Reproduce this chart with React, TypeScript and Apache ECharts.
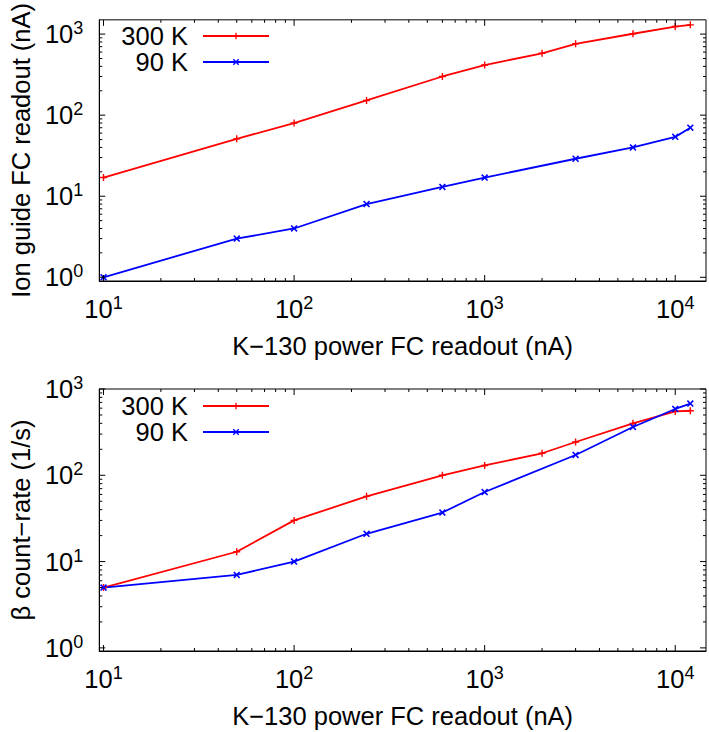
import React, { useEffect, useRef } from "react";
import * as echarts from "echarts";

// Ion guide Faraday-cup readout vs K-130 power FC readout (nA)
const xIon300 = [10, 50, 100, 240, 600, 1000, 2000, 3000, 6000, 10000, 12000];
const ion300 = [17, 51, 80, 152, 300, 415, 580, 760, 1010, 1240, 1300];
const xIon90 = [10, 50, 100, 240, 600, 1000, 3000, 6000, 10000, 12000];
const ion90 = [1.0, 3.0, 4.0, 8.0, 13, 17, 29, 40, 54, 70];

// Beta count-rate (1/s) vs K-130 power FC readout (nA)
const xBeta300 = [10, 50, 100, 240, 600, 1000, 2000, 3000, 6000, 10000, 12000];
const beta300 = [5.0, 13, 30, 57, 100, 130, 180, 243, 400, 550, 560];
const xBeta90 = [10, 50, 100, 240, 600, 1000, 3000, 6000, 10000, 12000];
const beta90 = [5.0, 7.0, 10, 21, 37, 64, 172, 363, 587, 677];

const seriesNames = ["300 K", "90 K"];
const xTitle = "K\u2212130 power FC readout (nA)";
const yTitles = ["Ion guide FC readout (nA)", "\u03b2 count\u2212rate (1/s)"];

// axis ranges
const X_MIN = 9.5;
const X_MAX = 14500;
const Y_RANGES = [
  [0.9, 1500],
  [0.92, 1000],
];

// decade (major) tick values and their 2..9 minor subdivisions
const xMajorTicks = [10, 100, 1000, 10000];
const yMajorTicks = [1, 10, 100, 1000];
const minorSteps = [2, 3, 4, 5, 6, 7, 8, 9];

const FONT = "'Liberation Sans', Arial, Helvetica, sans-serif";
const RED = "#ff0000";
const BLUE = "#0000ff";
const PLUS = "path://M4,0H6V4H10V6H6V10H4V6H0V4H4Z";
const CROSS =
  "path://M0,1.6L1.6,0L5,3.4L8.4,0L10,1.6L6.6,5L10,8.4L8.4,10L5,6.6L1.6,10L0,8.4L3.4,5Z";

const GRID_TOPS = [19, 389];
const GRID_H = 262;

function minorsIn(lo: number, hi: number) {
  const out: number[] = [];
  for (let d = 0.1; d <= hi; d *= 10) {
    for (const m of minorSteps) {
      const v = Math.round(m * d * 1000) / 1000;
      if (v > lo && v < hi) out.push(v);
    }
  }
  return out;
}

function powerLabel(v: number) {
  const e = Math.round(Math.log10(v));
  if (Math.abs(v - Math.pow(10, e)) > 1e-6 * v) return "";
  return `{b|10}{s|${e}}`;
}

const labelRich = {
  b: { fontSize: 25.5, lineHeight: 30, fontFamily: FONT, color: "#000" },
  s: {
    fontSize: 18,
    lineHeight: 15,
    verticalAlign: "top",
    fontFamily: FONT,
    color: "#000",
  },
};

function tickSeries(gi: number) {
  const [yMin, yMax] = Y_RANGES[gi];
  const data: number[][] = [];
  xMajorTicks.forEach((v) => data.push([v, yMin, 0, 1]));
  minorsIn(X_MIN, X_MAX).forEach((v) => data.push([v, yMin, 0, 0]));
  yMajorTicks
    .filter((v) => v >= yMin && v <= yMax)
    .forEach((v) => data.push([X_MIN, v, 1, 1]));
  minorsIn(yMin, yMax).forEach((v) => data.push([X_MIN, v, 1, 0]));
  return {
    type: "custom",
    name: "ticks" + gi,
    xAxisIndex: gi,
    yAxisIndex: gi,
    silent: true,
    clip: false,
    z: 5,
    data,
    renderItem: (_p: any, api: any) => {
      const kind = api.value(2);
      const len = api.value(3) ? 6 : 3;
      const style = { stroke: "#000", lineWidth: 1 };
      if (kind === 0) {
        const v = api.value(0);
        const b = api.coord([v, yMin]);
        const t = api.coord([v, yMax]);
        return {
          type: "group",
          children: [
            { type: "line", shape: { x1: b[0], y1: b[1], x2: b[0], y2: b[1] - len }, style },
            { type: "line", shape: { x1: t[0], y1: t[1], x2: t[0], y2: t[1] + len }, style },
          ],
        };
      }
      const v = api.value(1);
      const l = api.coord([X_MIN, v]);
      const r = api.coord([X_MAX, v]);
      return {
        type: "group",
        children: [
          { type: "line", shape: { x1: l[0], y1: l[1], x2: l[0] + len, y2: l[1] }, style },
          { type: "line", shape: { x1: r[0], y1: r[1], x2: r[0] - len, y2: r[1] }, style },
        ],
      };
    },
  };
}

function lineSeries(gi: number, name: string, xs: number[], ys: number[], color: string, symbol: string) {
  return {
    type: "line",
    name,
    xAxisIndex: gi,
    yAxisIndex: gi,
    data: xs.map((x, i) => [x, ys[i]]),
    symbol,
    symbolSize: 7,
    showSymbol: true,
    z: 3,
    lineStyle: { color, width: 1.8 },
    itemStyle: { color, borderWidth: 0 },
    emphasis: { disabled: true },
  };
}

export default function App() {
  const ref = useRef<HTMLDivElement>(null);

  useEffect(() => {
    if (!ref.current) return;
    const chart = echarts.init(ref.current, null, { renderer: "svg" });

    const grids = GRID_TOPS.map((top) => ({
      left: 96,
      top,
      width: 616,
      height: GRID_H,
      show: true,
      borderColor: "#000",
      borderWidth: 1,
      backgroundColor: "transparent",
    }));

    const xAxes = GRID_TOPS.map((_t, gi) => ({
      type: "log",
      logBase: 10,
      gridIndex: gi,
      min: X_MIN,
      max: X_MAX,
      name: xTitle,
      nameLocation: "middle",
      nameGap: 52,
      nameTextStyle: { fontSize: 25.5, color: "#000", fontFamily: FONT },
      axisLine: { lineStyle: { color: "#000", width: 1 } },
      axisTick: { show: false },
      minorTick: { show: false },
      splitLine: { show: false },
      axisLabel: { formatter: powerLabel, rich: labelRich, margin: 13 },
    }));

    const yAxes = GRID_TOPS.map((_t, gi) => ({
      type: "log",
      logBase: 10,
      gridIndex: gi,
      min: Y_RANGES[gi][0],
      max: Y_RANGES[gi][1],
      name: yTitles[gi],
      nameLocation: "middle",
      nameGap: 62,
      nameTextStyle: { fontSize: 25.5, color: "#000", fontFamily: FONT },
      axisLine: { lineStyle: { color: "#000", width: 1 } },
      axisTick: { show: false },
      minorTick: { show: false },
      splitLine: { show: false },
      axisLabel: { formatter: powerLabel, rich: labelRich, margin: 16 },
    }));

    const legends = GRID_TOPS.map((top) => ({
      data: seriesNames,
      orient: "vertical",
      align: "right",
      right: 439,
      top: top + 4,
      padding: 0,
      itemGap: 0,
      itemWidth: 66,
      itemHeight: 8,
      selectedMode: false,
      textStyle: {
        fontSize: 25.5,
        lineHeight: 26,
        padding: [0, 10, 0, 0],
        color: "#000",
        fontFamily: FONT,
      },
    }));

    chart.setOption({
      animation: false,
      backgroundColor: "#fff",
      grid: grids,
      xAxis: xAxes,
      yAxis: yAxes,
      legend: legends,
      series: [
        lineSeries(0, seriesNames[0], xIon300, ion300, RED, PLUS),
        lineSeries(0, seriesNames[1], xIon90, ion90, BLUE, CROSS),
        lineSeries(1, seriesNames[0], xBeta300, beta300, RED, PLUS),
        lineSeries(1, seriesNames[1], xBeta90, beta90, BLUE, CROSS),
        tickSeries(0),
        tickSeries(1),
      ],
    });

    return () => chart.dispose();
  }, []);

  return (
    <div
      ref={ref}
      style={{ position: "fixed", left: 0, top: 0, width: 709, height: 732 }}
    />
  );
}
